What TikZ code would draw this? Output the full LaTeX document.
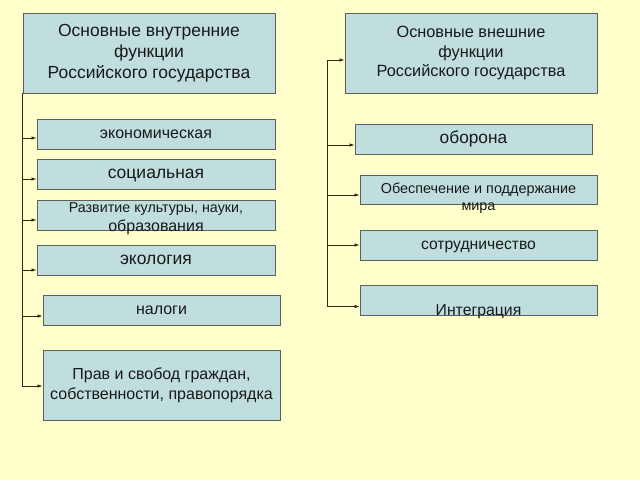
\documentclass[tikz,border=0pt]{standalone}
\usepackage{fontspec}
\setmainfont{Liberation Sans}
\usetikzlibrary{arrows.meta}
\definecolor{bg}{RGB}{255,255,204}
\definecolor{boxfill}{RGB}{192,222,222}
\definecolor{boxline}{RGB}{95,95,90}
\definecolor{conn}{RGB}{45,40,15}
\begin{document}
\begin{tikzpicture}[x=1pt,y=-1pt,
  fbox/.style={draw=boxline, line width=0.9pt, fill=boxfill, inner sep=0pt, align=center, text=black!90},
  one/.style={text height=#1, text depth=0pt},
  lbl/.style={text=black!90, align=center, inner sep=0pt},
  arr/.style={draw=conn, line width=0.8pt, -{Latex[length=5pt,width=3.5pt]}}]
\useasboundingbox (0,0) rectangle (640,480);
\fill[bg] (0,0) rectangle (640,480);

% left column
\node[fbox, minimum width=252, minimum height=80, font=\fontsize{17.5}{21}\selectfont] (t1) at (149,53)
  {Основные внутренние\\функции\\Российского государства};
\node[fbox, one=8.4pt, minimum width=238, minimum height=30, font=\fontsize{16}{19}\selectfont] (l1) at (156,134) {экономическая};
\node[fbox, one=9.1pt, minimum width=238, minimum height=30, font=\fontsize{17.5}{21}\selectfont] (l2) at (156,174) {социальная};
\node[fbox, minimum width=238, minimum height=30,
  label={[lbl, font=\fontsize{14.3}{17}\selectfont, yshift=-3.5pt]center:{Развитие культуры, науки,\\[1.5pt]\fontsize{16}{17}\selectfont образования}}] (l3) at (156,215) {};
\node[fbox, one=9.1pt, minimum width=238, minimum height=30, font=\fontsize{17.5}{21}\selectfont] (l4) at (156,260) {экология};
\node[fbox, one=8.4pt, minimum width=237, minimum height=30, font=\fontsize{16}{19}\selectfont] (l5) at (161.5,310) {налоги};
\node[fbox, minimum width=237, minimum height=70, font=\fontsize{16}{20}\selectfont] (l6) at (161.5,385)
  {Прав и свобод граждан,\\собственности, правопорядка};

% right column
\node[fbox, minimum width=252, minimum height=80, font=\fontsize{16.3}{19.5}\selectfont] (t2) at (471,53)
  {Основные внешние\\функции\\Российского государства};
\node[fbox, one=9pt, minimum width=237, minimum height=30, font=\fontsize{17.3}{21}\selectfont] (r1) at (473.5,139) {оборона};
\node[fbox, minimum width=237, minimum height=29,
  label={[lbl, font=\fontsize{14.4}{17}\selectfont, yshift=-9pt]center:{Обеспечение и поддержание\\мира}}] (r2) at (478.5,189.5) {};
\node[fbox, one=8.2pt, minimum width=237, minimum height=30, font=\fontsize{15.7}{19}\selectfont] (r3) at (478.5,245) {сотрудничество};
\node[fbox, minimum width=237, minimum height=30,
  label={[lbl, font=\fontsize{15.8}{19}\selectfont, one=8.2pt, yshift=-11pt]center:{Интеграция}}] (r4) at (478.5,300.5) {};

% left connectors
\draw[arr] (t1.south west) |- ([yshift=-1pt]l6.west);
\foreach \n/\d in {l1/-4pt, l2/-5pt, l3/-5pt, l4/-10pt, l5/-6pt}
  \draw[arr] ([yshift=\d]\n.west -| t1.south west) -- ([yshift=\d]\n.west);

% right connectors
\coordinate (spR) at (327,60);
\draw[arr] (spR) -- (spR -| t2.west);
\draw[arr] (spR) |- ([yshift=-6pt]r4.west);
\foreach \n/\d in {r1/-6pt, r2/-5.5pt, r3/0pt}
  \draw[arr] ([yshift=\d]\n.west -| spR) -- ([yshift=\d]\n.west);
\end{tikzpicture}
\end{document}
